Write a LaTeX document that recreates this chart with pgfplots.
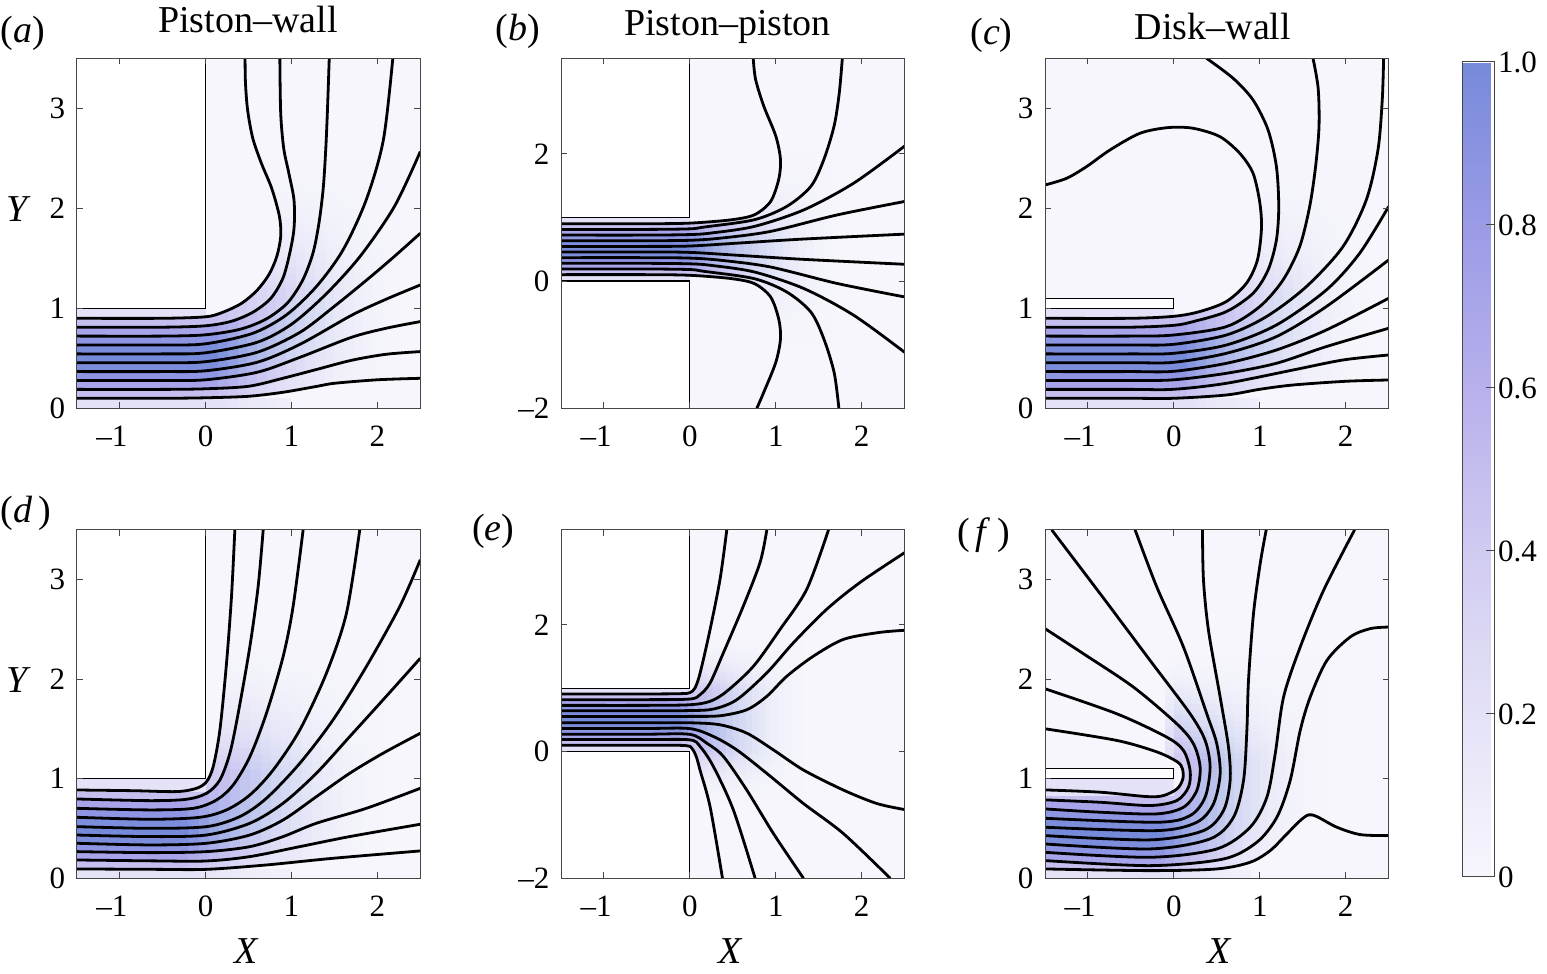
\documentclass[border=0pt]{standalone}
\usepackage{fontspec}
\setmainfont{Liberation Serif}
\usepackage{pgfplots}
\pgfplotsset{compat=1.18}
\usepgfplotslibrary{fillbetween}

\definecolor{bgc}{RGB}{246,246,252}
\definecolor{lv1}{RGB}{228,226,247}
\definecolor{lv2}{RGB}{197,191,239}
\definecolor{lv3}{RGB}{168,164,233}
\definecolor{lv4}{RGB}{142,149,226}
\definecolor{lv5}{RGB}{124,141,220}
\definecolor{lv6}{RGB}{118,138,218}
\definecolor{frm}{RGB}{70,70,70}

\newcommand\tickfont{\fontsize{15.5}{17}\selectfont}
\newcommand\labfont{\fontsize{19}{22}\selectfont}

\pgfplotsset{
  colormap={jfm}{rgb255(0cm)=(247,246,253) rgb255(2cm)=(228,226,247) rgb255(4cm)=(208,203,241) rgb255(6cm)=(183,176,236) rgb255(8cm)=(155,155,230) rgb255(10cm)=(118,138,218)},
  panel/.style={scale only axis, width=171.8pt, height=175pt,
    xmin=-1.5, xmax=2.5, xtick={-1,0,1,2},
    xticklabels={\llap{\textendash}1,0,1,2},
    tick align=inside, major tick length=3pt,
    axis line style={draw=frm, line width=0.5pt},
    every tick/.style={draw=frm, line width=0.5pt},
    set layers=axis on top, axis background/.style={fill=bgc},
    ticklabel style={font=\tickfont},
    xticklabel style={yshift=-5.5pt},
    yticklabel style={xshift=-2.3pt},
    clip=true},
  ypos/.style={ymin=0, ymax=3.5, ytick={0,1,2,3}, yticklabels={0,1,2,3}},
  ysym/.style={ymin=-2, ymax=3.5, ytick={-2,0,2}, yticklabels={\textendash2,0,2}},
  sl/.style={black, line width=1.4pt, smooth, tension=0.5},
  blk/.style={fill=white, draw=black, line width=0.6pt},
}

% band between two streamlines (solid)
\newcommand{\band}[3]{\addplot[fill=#3, draw=none] fill between[of=#1 and #2];}
% background-coloured veil: x0, x1, ylo, yhi, opacity
\newcommand{\ov}[5]{\addplot[fill=bgc, fill opacity=#5, draw=none] coordinates {(#1,#3) (#2,#3) (#2,#4) (#1,#4)} -- cycle;}
% 20 side-by-side veils from x0 to x1 with rising opacity, opaque beyond x1: {x0}{x1}{ylo}{yhi}
\newcommand{\fadex}[4]{%
  \pgfplotsinvokeforeach{0,...,19}{%
    \pgfmathsetmacro\xa{#1+(#2-(#1))*##1/20}%
    \pgfmathsetmacro\xb{#1+(#2-(#1))*(##1+1)/20}%
    \pgfmathsetmacro\op{1-(1-(##1+1)/20)^2}%
    \edef\tmpov{\noexpand\ov{\xa}{\xb}{#3}{#4}{\op}}\tmpov}%
  \ov{#2}{2.6}{#3}{#4}{1}}
% 20 stacked veils from y0 to y1 (either direction), opaque beyond y1 up to yend: {y0}{y1}{xleft}{yend}
\newcommand{\fadey}[4]{%
  \pgfplotsinvokeforeach{0,...,19}{%
    \pgfmathsetmacro\ya{#1+(#2-(#1))*##1/20}%
    \pgfmathsetmacro\yb{#1+(#2-(#1))*(##1+1)/20}%
    \pgfmathsetmacro\op{1-(1-(##1+1)/20)^2}%
    \edef\tmpov{\noexpand\ov{#3}{2.6}{\ya}{\yb}{\op}}\tmpov}%
  \ov{#3}{2.6}{#2}{#4}{1}}

\begin{document}
\begin{tikzpicture}

% ---------------- (a) Piston-wall, top ----------------
\begin{axis}[panel, ypos, at={(38.35pt,282.85pt)}, anchor=south west]
\addplot[fill=lv1, draw=none] coordinates {(-1.5,0.9) (0,0.9) (0,1) (-1.5,1)} -- cycle;
\addplot[fill=lv1, draw=none] coordinates {(-1.5,0) (1,0) (1,0.105) (-1.5,0.105)} -- cycle;
\fadex{0.15}{2.4}{-0.1}{3.6}
\fadey{1.2}{2.6}{-0.05}{3.6}
\addplot[sl, name path=a1] coordinates {(-1.5,0.9) (-0.5,0.9) (0,0.915) (0.2,0.96) (0.42,1.05) (0.6,1.18) (0.74,1.34) (0.83,1.52) (0.875,1.72) (0.86,1.92) (0.77,2.2) (0.65,2.45) (0.55,2.7) (0.49,2.98) (0.465,3.25) (0.46,3.5)};
\addplot[sl, name path=a2] coordinates {(-1.5,0.811) (-0.5,0.811) (0,0.825) (0.3,0.87) (0.55,0.96) (0.76,1.1) (0.9,1.3) (0.98,1.55) (1.03,1.8) (1.03,2.08) (0.97,2.35) (0.91,2.6) (0.875,2.95) (0.865,3.5)};
\addplot[sl, name path=a3] coordinates {(-1.5,0.722) (-0.5,0.722) (0,0.735) (0.4,0.79) (0.7,0.89) (0.95,1.05) (1.13,1.28) (1.25,1.55) (1.32,1.85) (1.37,2.2) (1.4,2.6) (1.42,3.0) (1.44,3.5)};
\addplot[sl, name path=a4] coordinates {(-1.5,0.633) (-0.5,0.633) (0,0.645) (0.55,0.75) (0.94,0.933) (1.29,1.217) (1.6,1.583) (1.87,2.083) (2.07,2.683) (2.18,3.5)};
\addplot[sl, name path=a5] coordinates {(-1.5,0.544) (-0.5,0.544) (0,0.555) (0.6,0.66) (1.0,0.84) (1.4,1.14) (1.8,1.52) (2.2,2.02) (2.5,2.567)};
\addplot[sl, name path=a6] coordinates {(-1.5,0.456) (-0.5,0.456) (0,0.466) (0.6,0.56) (1.1,0.76) (1.5,1.02) (1.9,1.3) (2.2,1.52) (2.5,1.75)};
\addplot[sl, name path=a7] coordinates {(-1.5,0.367) (-0.5,0.367) (0,0.375) (0.6,0.46) (1.1,0.64) (1.7,0.93) (2.1,1.09) (2.5,1.233)};
\addplot[sl, name path=a8] coordinates {(-1.5,0.278) (-0.5,0.278) (0,0.285) (0.6,0.36) (1.1,0.51) (1.7,0.71) (2.1,0.8) (2.5,0.867)};
\addplot[sl, name path=a9] coordinates {(-1.5,0.189) (-0.5,0.189) (0,0.195) (0.5,0.22) (0.9,0.3) (1.3,0.39) (1.7,0.48) (2.1,0.54) (2.5,0.567)};
\addplot[sl, name path=a10] coordinates {(-1.5,0.1) (-0.5,0.1) (0,0.105) (0.5,0.12) (0.9,0.16) (1.3,0.22) (1.5,0.25) (2.0,0.285) (2.5,0.3)};
\band{a1}{a2}{lv2}
\band{a2}{a3}{lv3}
\band{a3}{a4}{lv4}
\band{a4}{a5}{lv5}
\band{a5}{a6}{lv6}
\band{a6}{a7}{lv5}
\band{a7}{a8}{lv4}
\band{a8}{a9}{lv3}
\band{a9}{a10}{lv2}
\addplot[blk] coordinates {(-1.6,1) (0,1) (0,3.6) (-1.6,3.6)} -- cycle;
\end{axis}

% ---------------- (b) Piston-piston, top ----------------
\begin{axis}[panel, ysym, at={(280.5pt,282.85pt)}, anchor=south west]
\addplot[fill=lv1, draw=none] coordinates {(-1.5,0.9) (0,0.9) (0,1) (-1.5,1)} -- cycle;
\addplot[fill=lv1, draw=none] coordinates {(-1.5,0) (0,0) (0,0.1) (-1.5,0.1)} -- cycle;
\fadex{0.0}{1.8}{-2.1}{3.6}
\fadey{1.1}{2.1}{-0.05}{3.6}
\fadey{-0.1}{-1.1}{-0.05}{-2.1}
\addplot[sl, name path=b1] coordinates {(-1.5,0.9) (-0.5,0.9) (0,0.91) (0.47,0.96) (0.75,1.04) (0.94,1.25) (1.035,1.6) (1.055,1.91) (1.0,2.28) (0.86,2.75) (0.765,3.17) (0.738,3.5)};
\addplot[sl, name path=b2] coordinates {(-1.5,0.811) (-0.5,0.811) (0,0.82) (0.16,0.847) (0.75,0.963) (1.13,1.174) (1.41,1.49) (1.56,1.91) (1.68,2.44) (1.74,2.96) (1.775,3.5)};
\addplot[sl, name path=b3] coordinates {(-1.5,0.722) (-0.5,0.722) (0,0.73) (0.24,0.753) (0.75,0.858) (1.33,1.12) (1.91,1.54) (2.5,2.12)};
\addplot[sl, name path=b4] coordinates {(-1.5,0.633) (-0.5,0.633) (0,0.64) (0.36,0.674) (0.94,0.78) (1.72,1.04) (2.5,1.25)};
\addplot[sl, name path=b5] coordinates {(-1.5,0.544) (-0.5,0.544) (0,0.55) (0.55,0.595) (1.33,0.66) (2.5,0.737)};
\addplot[sl, name path=b6] coordinates {(-1.5,0.456) (-0.5,0.456) (0,0.45) (0.55,0.405) (1.33,0.34) (2.5,0.263)};
\addplot[sl, name path=b7] coordinates {(-1.5,0.367) (-0.5,0.367) (0,0.36) (0.36,0.326) (0.94,0.22) (1.72,-0.04) (2.5,-0.25)};
\addplot[sl, name path=b8] coordinates {(-1.5,0.278) (-0.5,0.278) (0,0.27) (0.24,0.247) (0.75,0.142) (1.33,-0.12) (1.91,-0.54) (2.5,-1.12)};
\addplot[sl, name path=b9] coordinates {(-1.5,0.189) (-0.5,0.189) (0,0.18) (0.16,0.153) (0.75,0.037) (1.13,-0.174) (1.41,-0.49) (1.56,-0.91) (1.68,-1.44) (1.735,-2.0)};
\addplot[sl, name path=b10] coordinates {(-1.5,0.1) (-0.5,0.1) (0,0.09) (0.47,0.04) (0.75,-0.04) (0.94,-0.25) (1.035,-0.6) (1.055,-0.91) (1.0,-1.28) (0.86,-1.75) (0.78,-2.0)};
\band{b1}{b2}{lv2}
\band{b2}{b3}{lv3}
\band{b3}{b4}{lv4}
\band{b4}{b5}{lv5}
\band{b5}{b6}{lv6}
\band{b6}{b7}{lv5}
\band{b7}{b8}{lv4}
\band{b8}{b9}{lv3}
\band{b9}{b10}{lv2}
\addplot[blk] coordinates {(-1.6,1) (0,1) (0,3.6) (-1.6,3.6)} -- cycle;
\addplot[blk] coordinates {(-1.6,0) (0,0) (0,-2.1) (-1.6,-2.1)} -- cycle;
\end{axis}

% ---------------- (c) Disk-wall, top ----------------
\begin{axis}[panel, ypos, at={(522.5pt,282.85pt)}, anchor=south west]
\addplot[fill=lv1, draw=none] coordinates {(-1.5,0.9) (0,0.9) (0,1) (-1.5,1)} -- cycle;
\addplot[fill=lv1, draw=none] coordinates {(-1.5,0) (1,0) (1,0.1) (-1.5,0.1)} -- cycle;
\ov{-1.6}{-0.05}{1.15}{3.6}{1}
\fadex{0.15}{2.4}{-0.1}{3.6}
\fadey{1.2}{2.6}{-0.05}{3.6}
\addplot[sl, name path=c1] coordinates {(-1.5,0.9) (-0.5,0.9) (0,0.92) (0.3,0.967) (0.61,1.067) (0.845,1.25) (0.973,1.483) (1.02,1.8) (1.0,2.06) (0.922,2.35) (0.767,2.55) (0.535,2.717) (0.225,2.8) (-0.066,2.807) (-0.395,2.75) (-0.744,2.583) (-1.016,2.417) (-1.248,2.3) (-1.5,2.233)};
\addplot[sl, name path=c2] coordinates {(-1.5,0.811) (-0.5,0.811) (0,0.83) (0.225,0.867) (0.612,0.967) (0.922,1.15) (1.097,1.383) (1.194,1.683) (1.221,2.017) (1.194,2.417) (1.097,2.783) (0.922,3.083) (0.69,3.3) (0.38,3.5)};
\addplot[sl, name path=c3] coordinates {(-1.5,0.722) (-0.5,0.722) (0,0.733) (0.612,0.817) (1.0,1.017) (1.271,1.283) (1.465,1.617) (1.581,2.017) (1.65,2.417) (1.69,2.817) (1.68,3.2) (1.62,3.5)};
\addplot[sl, name path=c4] coordinates {(-1.5,0.633) (-0.5,0.633) (0,0.64) (0.612,0.733) (1.078,0.917) (1.543,1.217) (1.969,1.617) (2.24,2.083) (2.376,2.583) (2.426,3.083) (2.442,3.5)};
\addplot[sl, name path=c5] coordinates {(-1.5,0.544) (-0.5,0.544) (0,0.55) (0.612,0.633) (1.194,0.833) (1.775,1.183) (2.163,1.55) (2.5,2.017)};
\addplot[sl, name path=c6] coordinates {(-1.5,0.456) (-0.5,0.456) (0,0.46) (0.612,0.55) (1.194,0.717) (1.775,1.017) (2.5,1.483)};
\addplot[sl, name path=c7] coordinates {(-1.5,0.367) (-0.5,0.367) (0,0.37) (0.612,0.45) (1.194,0.583) (1.775,0.783) (2.5,1.1)};
\addplot[sl, name path=c8] coordinates {(-1.5,0.278) (-0.5,0.278) (0,0.285) (0.612,0.35) (1.194,0.45) (1.775,0.617) (2.5,0.8)};
\addplot[sl, name path=c9] coordinates {(-1.5,0.189) (-0.5,0.189) (0,0.19) (0.612,0.25) (1.388,0.383) (1.969,0.483) (2.5,0.533)};
\addplot[sl, name path=c10] coordinates {(-1.5,0.1) (-0.5,0.1) (0,0.1) (0.612,0.133) (1.0,0.19) (1.388,0.233) (2.0,0.27) (2.5,0.283)};
\band{c1}{c2}{lv2}
\band{c2}{c3}{lv3}
\band{c3}{c4}{lv4}
\band{c4}{c5}{lv5}
\band{c5}{c6}{lv6}
\band{c6}{c7}{lv5}
\band{c7}{c8}{lv4}
\band{c8}{c9}{lv3}
\band{c9}{c10}{lv2}
\addplot[blk] coordinates {(-1.6,1) (0,1) (0,1.1) (-1.6,1.1)} -- cycle;
\end{axis}

% ---------------- (d) Piston-wall, bottom ----------------
\begin{axis}[panel, ypos, height=174.2pt, at={(38.35pt,47.85pt)}, anchor=south west]
\addplot[fill=lv1, draw=none] coordinates {(-1.5,0.87) (0,0.87) (0,1) (-1.5,1)} -- cycle;
\addplot[fill=lv1, draw=none] coordinates {(-1.5,0) (1,0) (1,0.09) (-1.5,0.09)} -- cycle;
\fadex{-0.2}{2.2}{-0.1}{3.6}
\fadey{1.1}{2.5}{-0.05}{3.6}
\addplot[sl, name path=d1] coordinates {(-1.5,0.887) (-0.841,0.88) (-0.337,0.871) (-0.105,0.904) (0.012,0.971) (0.089,1.122) (0.167,1.49) (0.244,2.16) (0.302,2.83) (0.341,3.5)};
\addplot[sl, name path=d2] coordinates {(-1.5,0.797) (-0.647,0.78) (-0.221,0.794) (0.012,0.854) (0.167,0.988) (0.283,1.256) (0.38,1.658) (0.516,2.328) (0.612,2.93) (0.671,3.5)};
\addplot[sl, name path=d3] coordinates {(-1.5,0.703) (-0.647,0.687) (-0.143,0.703) (0.128,0.787) (0.322,0.938) (0.516,1.222) (0.709,1.658) (0.903,2.227) (1.019,2.729) (1.136,3.5)};
\addplot[sl, name path=d4] coordinates {(-1.5,0.613) (-0.647,0.593) (-0.066,0.613) (0.244,0.687) (0.516,0.837) (0.787,1.088) (1.097,1.49) (1.407,2.06) (1.64,2.662) (1.795,3.5)};
\addplot[sl, name path=d5] coordinates {(-1.5,0.519) (-0.647,0.502) (0.012,0.519) (0.399,0.62) (0.709,0.804) (1.097,1.155) (1.484,1.591) (1.872,2.127) (2.26,2.729) (2.5,3.2)};
\addplot[sl, name path=d6] coordinates {(-1.5,0.435) (-0.647,0.419) (0.012,0.435) (0.516,0.553) (0.903,0.754) (1.29,1.055) (1.678,1.423) (2.066,1.792) (2.5,2.21)};
\addplot[sl, name path=d7] coordinates {(-1.5,0.352) (-0.647,0.335) (0.012,0.352) (0.516,0.435) (0.903,0.586) (1.29,0.82) (1.678,1.055) (2.066,1.256) (2.5,1.457)};
\addplot[sl, name path=d8] coordinates {(-1.5,0.268) (-0.647,0.258) (0.012,0.268) (0.516,0.318) (0.903,0.419) (1.29,0.553) (1.872,0.703) (2.5,0.904)};
\addplot[sl, name path=d9] coordinates {(-1.5,0.184) (-0.6,0.175) (0.012,0.174) (0.516,0.218) (1.097,0.318) (1.678,0.419) (2.5,0.543)};
\addplot[sl, name path=d10] coordinates {(-1.5,0.094) (-0.6,0.09) (0.012,0.09) (0.709,0.134) (1.484,0.201) (2.5,0.275)};
\band{d1}{d2}{lv2}
\band{d2}{d3}{lv3}
\band{d3}{d4}{lv4}
\band{d4}{d5}{lv5}
\band{d5}{d6}{lv6}
\band{d6}{d7}{lv5}
\band{d7}{d8}{lv4}
\band{d8}{d9}{lv3}
\band{d9}{d10}{lv2}
\addplot[blk] coordinates {(-1.6,1) (0,1) (0,3.6) (-1.6,3.6)} -- cycle;
\end{axis}

% ---------------- (e) Piston-piston, bottom ----------------
\begin{axis}[panel, ysym, height=174.2pt, at={(280.5pt,47.85pt)}, anchor=south west]
\addplot[fill=lv1, draw=none] coordinates {(-1.5,0.9) (0,0.9) (0,1) (-1.5,1)} -- cycle;
\addplot[fill=lv1, draw=none] coordinates {(-1.5,0) (0,0) (0,0.1) (-1.5,0.1)} -- cycle;
\fadex{-0.1}{1.4}{-2.1}{3.6}
\fadey{1.0}{1.9}{-0.05}{3.6}
\fadey{0.0}{-0.9}{-0.05}{-2.1}
\addplot[sl, name path=e1] coordinates {(-1.5,0.91) (-0.5,0.91) (-0.1,0.915) (0,0.93) (0.06,1.005) (0.12,1.243) (0.236,1.931) (0.352,2.725) (0.43,3.5)};
\addplot[sl, name path=e2] coordinates {(-1.5,0.82) (-0.5,0.82) (0,0.83) (0.12,0.9) (0.236,1.085) (0.391,1.561) (0.624,2.302) (0.818,2.989) (0.896,3.5)};
\addplot[sl, name path=e3] coordinates {(-1.5,0.73) (-0.5,0.73) (0,0.74) (0.236,0.794) (0.43,0.952) (0.741,1.349) (1.051,1.931) (1.362,2.566) (1.614,3.5)};
\addplot[sl, name path=e4] coordinates {(-1.5,0.645) (-0.5,0.645) (0,0.648) (0.275,0.672) (0.547,0.82) (0.896,1.243) (1.207,1.72) (1.595,2.249) (1.983,2.672) (2.5,3.14)};
\addplot[sl, name path=e5] coordinates {(-1.5,0.555) (-0.5,0.555) (0,0.556) (0.353,0.566) (0.663,0.661) (0.896,0.873) (1.129,1.19) (1.44,1.508) (1.789,1.772) (2.2,1.88) (2.5,1.915)};
\addplot[sl, name path=e6] coordinates {(-1.5,0.455) (-0.5,0.455) (0,0.455) (0.353,0.423) (0.663,0.291) (0.974,0.026) (1.323,-0.291) (1.789,-0.608) (2.178,-0.82) (2.5,-0.915)};
\addplot[sl, name path=e7] coordinates {(-1.5,0.365) (-0.5,0.365) (0,0.363) (0.275,0.238) (0.547,0.026) (0.896,-0.344) (1.323,-0.82) (1.789,-1.296) (2.333,-2.0)};
\addplot[sl, name path=e8] coordinates {(-1.5,0.275) (-0.5,0.275) (0,0.272) (0.198,0.132) (0.392,-0.079) (0.663,-0.608) (0.974,-1.296) (1.323,-2.0)};
\addplot[sl, name path=e9] coordinates {(-1.5,0.19) (-0.5,0.19) (0,0.185) (0.12,0.079) (0.275,-0.238) (0.508,-0.926) (0.76,-2.0)};
\addplot[sl, name path=e10] coordinates {(-1.5,0.1) (-0.5,0.1) (-0.05,0.095) (0.03,0.04) (0.08,-0.1) (0.12,-0.3) (0.236,-0.873) (0.38,-2.0)};
\band{e1}{e2}{lv2}
\band{e2}{e3}{lv3}
\band{e3}{e4}{lv4}
\band{e4}{e5}{lv5}
\band{e5}{e6}{lv6}
\band{e6}{e7}{lv5}
\band{e7}{e8}{lv4}
\band{e8}{e9}{lv3}
\band{e9}{e10}{lv2}
\addplot[blk] coordinates {(-1.6,1) (0,1) (0,3.6) (-1.6,3.6)} -- cycle;
\addplot[blk] coordinates {(-1.6,0) (0,0) (0,-2.1) (-1.6,-2.1)} -- cycle;
\end{axis}

% ---------------- (f) Disk-wall, bottom ----------------
\begin{axis}[panel, ypos, height=174.2pt, at={(522.5pt,47.85pt)}, anchor=south west]
\addplot[fill=lv1, draw=none] coordinates {(-1.5,0.83) (0,0.83) (0,1) (-1.5,1)} -- cycle;
\addplot[fill=lv1, draw=none] coordinates {(-1.5,0) (0.9,0) (0.9,0.08) (-1.5,0.08)} -- cycle;
\ov{-1.6}{-0.1}{1.1}{3.6}{1}
\ov{-0.1}{0.0}{1.1}{3.6}{0.5}
\fadex{-0.1}{1.9}{-0.1}{3.6}
\fadey{1.2}{2.3}{-0.1}{3.6}
\addplot[sl, name path=f1] coordinates {(-1.5,0.888) (-0.859,0.865) (-0.316,0.821) (-0.121,0.831) (0.04,0.9) (0.105,1.0) (0.1,1.1) (0.04,1.17) (-0.199,1.27) (-0.665,1.385) (-1.5,1.502)};
\addplot[sl, name path=f2] coordinates {(-1.5,0.788) (-0.859,0.764) (-0.277,0.731) (0.034,0.781) (0.17,0.915) (0.189,1.083) (0.112,1.284) (-0.083,1.418) (-0.665,1.653) (-1.5,1.904)};
\addplot[sl, name path=f3] coordinates {(-1.5,0.697) (-0.859,0.664) (-0.199,0.647) (0.112,0.714) (0.267,0.882) (0.306,1.116) (0.228,1.351) (0.034,1.552) (-0.471,1.921) (-1.053,2.256) (-1.5,2.508)};
\addplot[sl, name path=f4] coordinates {(-1.5,0.603) (-0.199,0.563) (0.189,0.63) (0.364,0.815) (0.422,1.116) (0.364,1.385) (0.189,1.653) (-0.277,2.189) (-0.859,2.86) (-1.422,3.5)};
\addplot[sl, name path=f5] coordinates {(-1.5,0.513) (-0.199,0.479) (0.267,0.563) (0.461,0.748) (0.539,1.049) (0.5,1.351) (0.383,1.653) (0.112,2.323) (-0.199,2.927) (-0.451,3.5)};
\addplot[sl, name path=f6] coordinates {(-1.5,0.429) (-0.277,0.386) (0.345,0.479) (0.578,0.681) (0.655,0.982) (0.636,1.317) (0.539,1.82) (0.403,2.491) (0.345,2.994) (0.333,3.5)};
\addplot[sl, name path=f7] coordinates {(-1.5,0.345) (-0.277,0.295) (0.422,0.396) (0.694,0.613) (0.811,0.982) (0.85,1.485) (0.869,1.988) (0.927,2.658) (1.005,3.161) (1.075,3.5)};
\addplot[sl, name path=f8] coordinates {(-1.5,0.261) (-0.277,0.211) (0.5,0.295) (0.888,0.513) (1.083,0.815) (1.18,1.25) (1.277,1.82) (1.471,2.323) (1.743,2.893) (2.104,3.5)};
\addplot[sl, name path=f9] coordinates {(-1.5,0.178) (-0.277,0.127) (0.578,0.194) (0.966,0.362) (1.199,0.613) (1.354,0.982) (1.471,1.485) (1.587,1.82) (1.782,2.189) (2.053,2.424) (2.286,2.508) (2.5,2.524)};
\addplot[sl, name path=f10] coordinates {(-1.5,0.094) (-0.277,0.077) (0.5,0.094) (0.888,0.161) (1.121,0.278) (1.316,0.446) (1.471,0.58) (1.568,0.637) (1.665,0.62) (1.898,0.513) (2.17,0.439) (2.5,0.429)};
\band{f1}{f2}{lv2}
\band{f2}{f3}{lv3}
\band{f3}{f4}{lv4}
\band{f4}{f5}{lv5}
\band{f5}{f6}{lv6}
\band{f6}{f7}{lv5}
\band{f7}{f8}{lv4}
\band{f8}{f9}{lv3}
\band{f9}{f10}{lv2}
\addplot[blk] coordinates {(-1.6,1) (0,1) (0,1.1) (-1.6,1.1)} -- cycle;
\end{axis}

% ---------------- colour bar ----------------
\begin{axis}[at={(731pt,48.5pt)}, anchor=south west, scale only axis, width=16pt, height=407.5pt,
  hide axis, xmin=0, xmax=1, ymin=0, ymax=1,
  colormap name=jfm, point meta min=0, point meta max=1,
  colorbar, colorbar shift/.style={xshift=0pt},
  colorbar style={at={(parent axis.south west)}, anchor=south west, scale only axis, xshift=0pt,
    width=16pt, height=407.5pt, ytick={0,0.2,0.4,0.6,0.8,1}, yticklabels={0,0.2,0.4,0.6,0.8,1.0},
    ytick pos=right, tick align=inside, major tick length=4pt,
    yticklabel style={font=\tickfont, xshift=-1.5pt},
    axis line style={draw=frm, line width=0.5pt},
    every tick/.style={draw=frm, line width=0.5pt}}]
\addplot[draw=none] coordinates {(0,0) (1,1)};
\end{axis}

% ---------------- titles and labels ----------------
\node[anchor=base, font=\labfont] at (124pt,470.8pt) {Piston\textendash wall};
\node[anchor=base, font=\labfont] at (363.75pt,469pt) {Piston\textendash piston};
\node[anchor=base, font=\labfont] at (606.5pt,467.3pt) {Disk\textendash wall};
\node[anchor=base west, inner sep=0pt, font=\labfont] at (0pt,465.5pt) {(\textit{a})};
\node[anchor=base west, inner sep=0pt, font=\labfont] at (247.5pt,466.5pt) {(\textit{b})};
\node[anchor=base west, inner sep=0pt, font=\labfont] at (485pt,464.5pt) {(\textit{c})};
\node[anchor=base west, inner sep=0pt, font=\labfont] at (0pt,225.5pt) {(\textit{d}\,)};
\node[anchor=base west, inner sep=0pt, font=\labfont] at (235.8pt,216.5pt) {(\textit{e})};
\node[anchor=base west, inner sep=0pt, font=\labfont] at (478.3pt,214.5pt) {(\,\textit{f}\,)};
\node[font=\labfont] at (9.5pt,382.5pt) {\textit{Y}};
\node[font=\labfont] at (9.5pt,146.75pt) {\textit{Y}};
\node[font=\labfont] at (123.3pt,11.25pt) {\textit{X}};
\node[font=\labfont] at (365.25pt,11.25pt) {\textit{X}};
\node[font=\labfont] at (610pt,11.25pt) {\textit{X}};

\pgfresetboundingbox
\useasboundingbox (0,0) rectangle (773.5pt,487pt);
\end{tikzpicture}
\end{document}
